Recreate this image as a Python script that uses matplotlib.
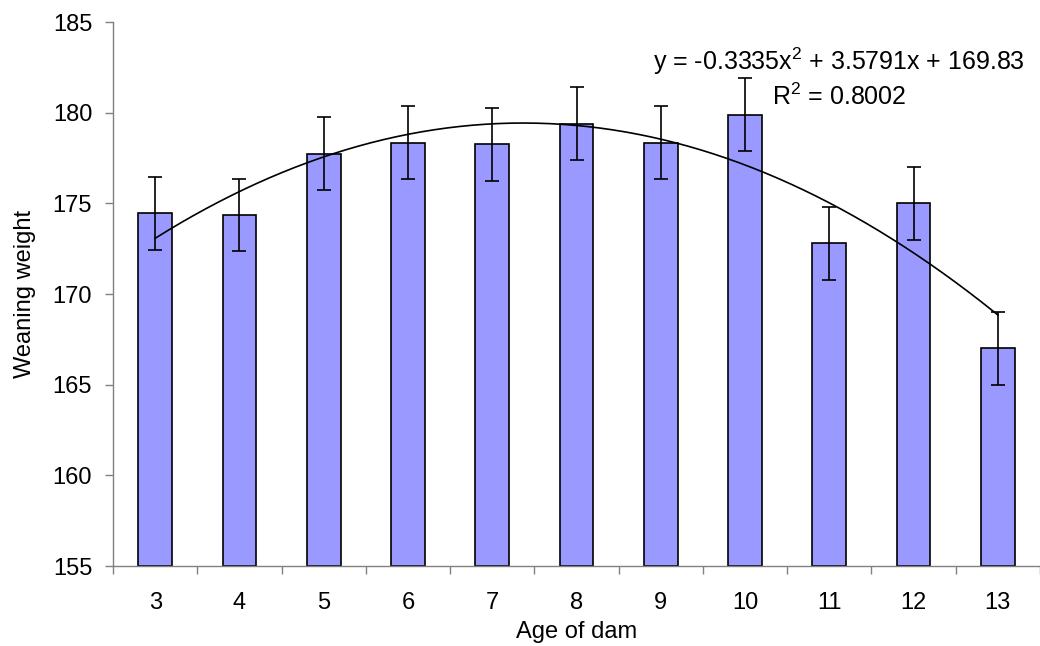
import numpy as np
import matplotlib
matplotlib.use("Agg")
import matplotlib.pyplot as plt

plt.rcParams['font.family'] = ['Liberation Sans', 'DejaVu Sans']
plt.rcParams['mathtext.fontset'] = 'custom'
plt.rcParams['mathtext.rm'] = 'Liberation Sans'

# данные
ages = ['3', '4', '5', '6', '7', '8', '9', '10', '11', '12', '13']
weights = [174.45, 174.35, 177.75, 178.35, 178.25, 179.4, 178.35, 179.9, 172.8, 175.0, 167.0]
errors = [2, 2, 2, 2, 2, 2, 2, 2, 2, 2, 2]
trend_coef = [-0.3335, 3.5791, 169.83]  # y = a*x^2 + b*x + c, x = 1..11
eq_text = r'y = -0.3335x$^2$ + 3.5791x + 169.83'
r2_text = r'R$^2$ = 0.8002'

fs = 17

fig = plt.figure(figsize=(10.4, 6.46), dpi=100)
ax = fig.add_axes([0.1087, 0.1238, 0.8913, 0.842])

pos = np.arange(len(ages))
ax.bar(pos, np.array(weights) - 155, bottom=155, width=0.4,
       color='#9999FF', edgecolor='black', linewidth=1.2, zorder=2)
ax.errorbar(pos, weights, yerr=errors, fmt='none', ecolor='black',
            elinewidth=1.2, capsize=5, capthick=1.2, zorder=3)

# линия тренда
xs = np.linspace(0, len(ages) - 1, 200)
ax.plot(xs, np.polyval(trend_coef, xs + 1), color='black', lw=1.2, zorder=4)

ax.text(0.783, 0.928, eq_text, transform=ax.transAxes, ha='center', va='center', fontsize=fs + 1)
ax.text(0.783, 0.862, r2_text, transform=ax.transAxes, ha='center', va='center', fontsize=fs + 1)

ax.set_xlim(-0.5, len(ages) - 0.5)
ax.set_ylim(155, 185)
ax.set_yticks(np.arange(155, 186, 5))
ax.set_xticks(np.arange(len(ages) + 1) - 0.5)
ax.set_xticklabels([])
ax.set_xticks(pos, minor=True)
ax.set_xticklabels(ages, minor=True)

ax.tick_params(axis='x', which='major', direction='out', length=6, width=1, color='#808080')
ax.tick_params(axis='x', which='minor', length=0, pad=19, labelsize=fs)
ax.tick_params(axis='y', direction='out', length=6, width=1, color='#808080', labelsize=fs, pad=9)

for s in ['top', 'right']:
    ax.spines[s].set_visible(False)
for s in ['left', 'bottom']:
    ax.spines[s].set_color('#808080')
    ax.spines[s].set_linewidth(1)

ax.set_xlabel('Age of dam', fontsize=fs, labelpad=5)
ax.set_ylabel('Weaning weight', fontsize=fs, labelpad=12)

fig.savefig('out.png', dpi=100)
